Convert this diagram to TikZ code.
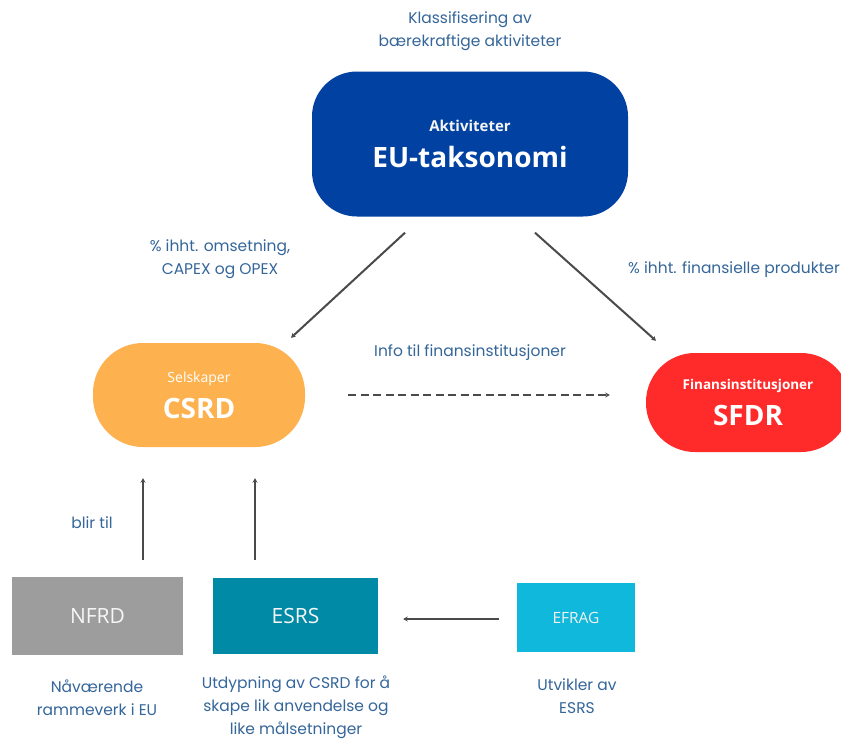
\documentclass[tikz,border=0pt]{standalone}
\usepackage{fontspec}
\setmainfont{Open Sans}
\newfontfamily\labfont{Poppins}
\usetikzlibrary{calc,arrows.meta}
\definecolor{eublue}{HTML}{0041A2}
\definecolor{csrdorange}{HTML}{FDB24F}
\definecolor{sfdrred}{HTML}{FF2B2B}
\definecolor{nfrdgrey}{HTML}{9D9D9D}
\definecolor{esrsteal}{HTML}{008AA6}
\definecolor{efragcyan}{HTML}{10B8DB}
\definecolor{labblue}{HTML}{35669A}
\definecolor{arrgrey}{HTML}{4A4A4A}
\tikzset{
  pill/.style={rounded corners=#1, inner sep=0pt, align=center, text=white},
  sqbox/.style={inner sep=0pt, align=center},
  lab/.style={text=labblue, align=center, inner sep=0pt, font=\labfont\fontsize{15.5}{23}\selectfont},
  arr/.style={draw=arrgrey, line width=2pt, -{Stealth[length=4.5pt,width=5pt]}},
}
\begin{document}
\begin{tikzpicture}[x=1pt,y=-1pt]
\useasboundingbox (0,0) rectangle (841,740);
\clip (0,0) rectangle (841,740);
\fill[white] (0,0) rectangle (841,740);

% main nodes
\node[pill=45pt, fill=eublue, minimum width=316pt, minimum height=145pt] (EU) at (470,144)
  {{\bfseries\fontsize{15}{15}\selectfont\color{white!92!gray} Aktiviteter}\\[13pt]{\bfseries\fontsize{28}{28}\selectfont EU-taksonomi}};
\node[pill=50pt, fill=csrdorange, minimum width=212pt, minimum height=104pt] (CSRD) at (199,395)
  {{\fontsize{14}{14}\selectfont Selskaper}\\[11pt]{\bfseries\fontsize{28}{28}\selectfont CSRD}};
\node[pill=49pt, fill=sfdrred, minimum width=204pt, minimum height=99pt] (SFDR) at (748,402.5)
  {{\bfseries\fontsize{13.5}{13.5}\selectfont Finansinstitusjoner}\\[11pt]{\bfseries\fontsize{28}{28}\selectfont SFDR}};

\node[sqbox, fill=nfrdgrey, minimum width=171pt, minimum height=78pt, text=white!93!gray,
  font=\fontsize{21}{21}\selectfont] (NFRD) at (97.5,616) {NFRD};
\node[sqbox, fill=esrsteal, minimum width=165pt, minimum height=76pt, text=white!93!gray,
  font=\fontsize{21}{21}\selectfont] (ESRS) at (295.5,616) {ESRS};
\node[sqbox, fill=efragcyan, minimum width=118pt, minimum height=69pt, text=white!90!gray,
  font=\fontsize{15.5}{15.5}\selectfont] (EFRAG) at (576,617.5) {EFRAG};

% connectors
\draw[arr] ($(EU.south)+(-65,16)$) -- ($(CSRD.north)+(92,-5)$);
\draw[arr] ($(EU.south)+(65,16)$) -- ($(SFDR.north)+(-92,-12)$);
\draw[arr, dash pattern=on 8pt off 4.5pt] ($(CSRD.east)+(43,0)$) -- ($(CSRD.east -| SFDR.west)+(-36,0)$);
\draw[arr] ($(NFRD.north)+(45.5,-17)$) -- ($(NFRD.north |- CSRD.south)+(45.5,31)$);
\draw[arr] ($(ESRS.north)+(-40.5,-18)$) -- ($(ESRS.north |- CSRD.south)+(-40.5,31)$);
\draw[arr] ($(EFRAG.west)+(-18,1.5)$) -- ($(EFRAG.west -| ESRS.east)+(25,1.5)$);

% labels
\node[lab] (l1) at (470,31) {Klassifisering av\\bærekraftige aktiviteter};
\node[lab] (l2) at (220,259) {\% ihht. omsetning,\\CAPEX og OPEX};
\node[lab, anchor=west] (l3) at (628,270) {\% ihht. finansielle produkter};
\node[lab] (l4) at (470,353) {Info til finansinstitusjoner};
\node[lab] (l5) at (92,523) {blir til};
\node[lab] (l6) at (97,698) {Nåværende\\rammeverk i EU};
\node[lab] (l7) at (296,707) {Utdypning av CSRD for å\\skape lik anvendelse og\\like målsetninger};
\node[lab] (l8) at (577,696) {Utvikler av\\ESRS};
\end{tikzpicture}
\end{document}
